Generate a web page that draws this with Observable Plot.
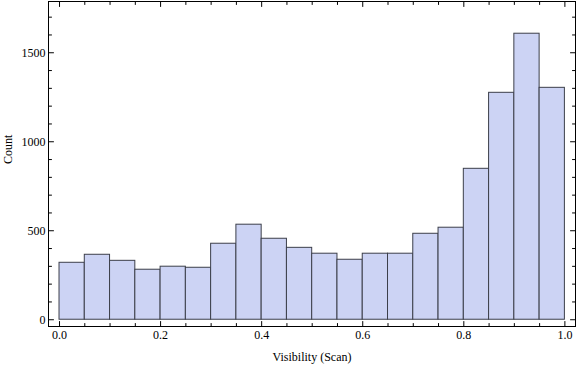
<!DOCTYPE html>
<html>
<head>
<meta charset="utf-8">
<script src="https://cdn.jsdelivr.net/npm/d3@7"></script>
<script src="https://cdn.jsdelivr.net/npm/@observablehq/plot@0.6"></script>
<style>
  html, body { margin: 0; padding: 0; background: #fff; }
  #chart { width: 576px; height: 366px; }
</style>
</head>
<body>
<div id="chart"></div>
<script>
// Histogram bins (left/right edges) and counts
const binStart = [0.00, 0.05, 0.10, 0.15, 0.20, 0.25, 0.30, 0.35, 0.40, 0.45,
                  0.50, 0.55, 0.60, 0.65, 0.70, 0.75, 0.80, 0.85, 0.90, 0.95];
const binEnd   = [0.05, 0.10, 0.15, 0.20, 0.25, 0.30, 0.35, 0.40, 0.45, 0.50,
                  0.55, 0.60, 0.65, 0.70, 0.75, 0.80, 0.85, 0.90, 0.95, 1.00];
const counts   = [320, 365, 331, 281, 298, 292, 427, 534, 455, 404,
                  371, 337, 371, 371, 483, 517, 848, 1275, 1607, 1303];

// Tick values
const xMajor = [0, 0.2, 0.4, 0.6, 0.8, 1.0];
const xMinor = [0.05, 0.1, 0.15, 0.25, 0.3, 0.35, 0.45, 0.5, 0.55, 0.65, 0.7, 0.75, 0.85, 0.9, 0.95];
const yMajor = [0, 500, 1000, 1500];
const yMinor = [100, 200, 300, 400, 600, 700, 800, 900, 1100, 1200, 1300, 1400, 1600, 1700];

const xLabel = "Visibility (Scan)";
const yLabel = "Count";

const bins = binStart.map((s, i) => ({x1: s, x2: binEnd[i], y: counts[i]}));

const tickShape = {draw(context, l) { context.moveTo(0, 0); context.lineTo(0, -l); }};
const ticks = (values, dim, anchor, rotate, len) =>
  Plot.vector(values, {
    [dim]: d => d,
    frameAnchor: anchor,
    rotate,
    length: len,
    anchor: "start",
    shape: tickShape,
    stroke: "#000",
    strokeWidth: 1
  });

const chart = Plot.plot({
  width: 576,
  height: 366,
  marginLeft: 48,
  marginRight: 1,
  marginTop: 1,
  marginBottom: 40,
  style: {fontFamily: "'Liberation Serif', 'DejaVu Serif', serif", fontSize: "12px", background: "#fff", color: "#000"},
  x: {domain: [-0.0218, 1.021]},
  y: {domain: [-38, 1788]},
  marks: [
    Plot.rectY(bins, {x1: "x1", x2: "x2", y: "y", fill: "#CCD3F4", stroke: "#3c3f4a", strokeWidth: 1}),
    Plot.frame({stroke: "#000", strokeWidth: 1}),
    ticks(xMajor, "x", "bottom", 0, 5),
    ticks(xMinor, "x", "bottom", 0, 3),
    ticks(xMajor, "x", "top", 180, 5),
    ticks(xMinor, "x", "top", 180, 3),
    ticks(yMajor, "y", "left", 90, 5),
    ticks(yMinor, "y", "left", 90, 3),
    ticks(yMajor, "y", "right", -90, 5),
    ticks(yMinor, "y", "right", -90, 3),
    Plot.axisX(xMajor, {anchor: "bottom", tickSize: 0, tickPadding: 4, tickFormat: d3.format(".1f"), label: null, fontSize: 12}),
    Plot.axisY(yMajor, {anchor: "left", tickSize: 0, tickPadding: 3, tickFormat: d => String(d), label: null, fontSize: 12}),
    Plot.text([xLabel], {frameAnchor: "bottom", dy: 31, lineAnchor: "middle", text: d => d, fontSize: 12}),
    Plot.text([yLabel], {frameAnchor: "left", dx: -40, rotate: -90, lineAnchor: "middle", text: d => d, fontSize: 12})
  ]
});
document.getElementById("chart").appendChild(chart);
</script>
</body>
</html>
